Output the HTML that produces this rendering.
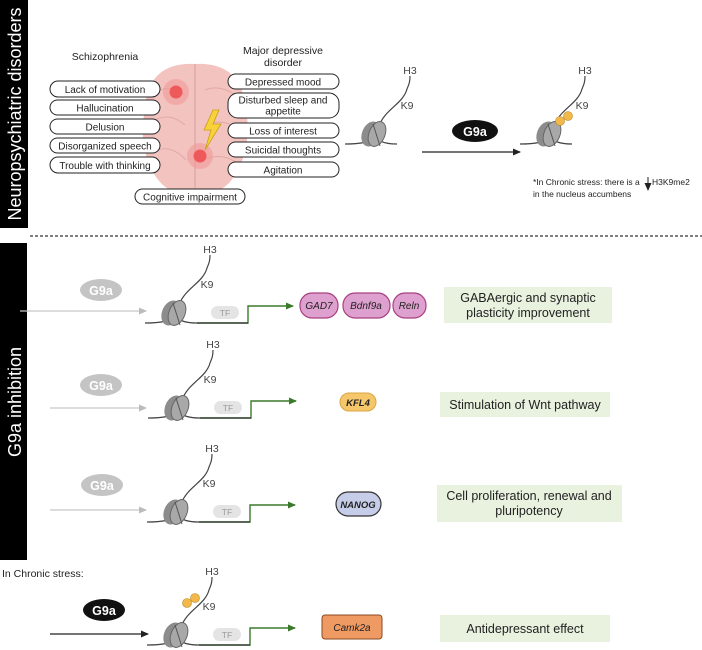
<!DOCTYPE html>
<html><head><meta charset="utf-8"><style>
html,body{margin:0;padding:0;background:#fff;}
svg{display:block;font-family:"Liberation Sans",sans-serif;}
</style></head><body>
<svg width="702" height="650" viewBox="0 0 702 650" xmlns="http://www.w3.org/2000/svg">
<defs>
<marker id="ag" markerWidth="8" markerHeight="8" refX="7" refY="4" orient="auto" markerUnits="userSpaceOnUse"><path d="M0,0.5 L8,4 L0,7.5z" fill="#3a7a2a"/></marker>
<marker id="al" markerWidth="8" markerHeight="8" refX="7" refY="4" orient="auto" markerUnits="userSpaceOnUse"><path d="M0,0.5 L8,4 L0,7.5z" fill="#bbb"/></marker>
<marker id="ak" markerWidth="8" markerHeight="8" refX="7" refY="4" orient="auto" markerUnits="userSpaceOnUse"><path d="M0,0.5 L8,4 L0,7.5z" fill="#222"/></marker>
<g id="nuc">
<path d="M-30 10 Q-6 10 -2 4 M2 4 Q6 10 22 10" fill="none" stroke="#444" stroke-width="1.3"/>
<path d="M4 -8 C10 -25 28 -30 32 -45 C34 -50 35 -52 35 -58" fill="none" stroke="#444" stroke-width="1.2"/>
<ellipse cx="-4" cy="0" rx="9" ry="13" transform="rotate(22 -4 0)" fill="#8c8c8c"/>
<ellipse cx="2" cy="0" rx="8" ry="13" transform="rotate(22 2 0)" fill="#a8a8a8" stroke="#666" stroke-width="1"/>
<path d="M-2 -10 L5 12" stroke="#555" stroke-width="1"/>
<text x="35" y="-60" font-size="10.5" fill="#444" text-anchor="middle">H3</text>
<text x="32" y="-25" font-size="10.5" fill="#444" text-anchor="middle">K9</text>
</g>
<g id="tfx">
<path d="M22 10 L73 10 L73 -7 L118 -7" fill="none" stroke="#3a7a2a" stroke-width="1.4" marker-end="url(#ag)"/>
<path d="M22 10 L73 10" stroke="#333" stroke-width="1.3"/>
<rect x="36" y="-7" width="28" height="13" rx="6.5" fill="#e4e4e4"/>
<text x="50" y="3" font-size="8.5" fill="#999" text-anchor="middle">TF</text>
</g>
<g id="me">
<circle cx="-2" cy="0" r="4.5" fill="#f2b84a" stroke="#b88a20" stroke-width="0.6"/>
<circle cx="6" cy="-5" r="4.5" fill="#f2b84a" stroke="#b88a20" stroke-width="0.6"/>
</g>
</defs>

<rect x="0" y="0" width="28" height="228" fill="#000"/>
<text transform="translate(21,114) rotate(-90)" font-size="18" fill="#fff" text-anchor="middle">Neuropsychiatric disorders</text>
<rect x="0" y="243" width="27" height="317" fill="#000"/>
<text transform="translate(21,402) rotate(-90)" font-size="18" fill="#fff" text-anchor="middle">G9a inhibition</text>
<line x1="30" y1="236" x2="702" y2="236" stroke="#333" stroke-width="1.2" stroke-dasharray="3,2"/>

<path d="M195 64 C162 62 146 80 145 110 C138 140 148 178 170 190 C185 197 205 197 220 190 C242 178 252 140 246 110 C244 80 228 62 195 64Z" fill="#f3c3c0"/>
<path d="M195 64 L195 194" stroke="#d79f9c" stroke-width="1"/>
<g fill="none" stroke="#e2a8a5" stroke-width="1">
<path d="M160 90 Q175 85 185 95"/><path d="M155 120 Q170 112 185 125"/><path d="M158 150 Q172 145 186 160"/>
<path d="M205 90 Q220 84 235 95"/><path d="M205 125 Q222 118 238 128"/><path d="M204 160 Q220 152 236 162"/>
</g>
<circle cx="176" cy="92" r="13" fill="#f29a98" opacity="0.6"/><circle cx="176" cy="92" r="6.5" fill="#ee5a5a"/>
<circle cx="200" cy="156" r="13" fill="#f29a98" opacity="0.6"/><circle cx="200" cy="156" r="6.5" fill="#ee5a5a"/>
<path d="M213 110 L204 130 L211 130 L205 150 L221 124 L213 124 L219 110Z" fill="#f7d23a" stroke="#c9a010" stroke-width="0.8"/>

<text x="105" y="60" font-size="10.5" fill="#222" text-anchor="middle">Schizophrenia</text>
<text x="283" y="54" font-size="10.5" fill="#222" text-anchor="middle">Major depressive</text>
<text x="283" y="66" font-size="10.5" fill="#222" text-anchor="middle">disorder</text>
<g fill="#fff" stroke="#222" stroke-width="1">
<rect x="50" y="81" width="110" height="16" rx="8"/>
<rect x="50" y="100" width="110" height="15" rx="7.5"/>
<rect x="50" y="119" width="110" height="15" rx="7.5"/>
<rect x="50" y="138" width="110" height="15" rx="7.5"/>
<rect x="50" y="157" width="110" height="16" rx="8"/>
<rect x="228" y="74" width="111" height="15" rx="7.5"/>
<rect x="228" y="93" width="111" height="25" rx="10"/>
<rect x="228" y="123" width="111" height="15" rx="7.5"/>
<rect x="228" y="142" width="111" height="15" rx="7.5"/>
<rect x="228" y="162" width="111" height="15" rx="7.5"/>
<rect x="135" y="189" width="110" height="15" rx="7.5"/>
</g>
<g font-size="10" fill="#222" text-anchor="middle">
<text x="105" y="93">Lack of motivation</text>
<text x="105" y="111.5">Hallucination</text>
<text x="105" y="130.5">Delusion</text>
<text x="105" y="149.5">Disorganized speech</text>
<text x="105" y="169">Trouble with thinking</text>
<text x="283" y="85.5">Depressed mood</text>
<text x="283" y="103.5">Disturbed sleep and</text>
<text x="283" y="114.5">appetite</text>
<text x="283" y="134.5">Loss of interest</text>
<text x="283" y="153.5">Suicidal thoughts</text>
<text x="283" y="173.5">Agitation</text>
<text x="190" y="200.5">Cognitive impairment</text>
</g>

<use href="#nuc" x="375" y="134"/>
<line x1="422" y1="152" x2="520" y2="152" stroke="#222" stroke-width="1.3" marker-end="url(#ak)"/>
<ellipse cx="475" cy="131" rx="23" ry="11" fill="#111"/>
<text x="475" y="136" font-size="12.5" font-weight="bold" fill="#fff" text-anchor="middle">G9a</text>
<use href="#nuc" x="550" y="134"/>
<use href="#me" x="562" y="121"/>
<text x="533" y="185" font-size="8.5" fill="#222">*In Chronic stress: there is a</text>
<line x1="648" y1="177" x2="648" y2="190" stroke="#222" stroke-width="1" marker-end="url(#ak)"/>
<text x="652" y="185" font-size="8.5" fill="#222">H3K9me2</text>
<text x="533" y="197" font-size="8.5" fill="#222">in the nucleus accumbens</text>

<ellipse cx="101" cy="290" rx="21" ry="11" fill="#c4c4c4"/>
<text x="101" y="295" font-size="12.5" font-weight="bold" fill="#fff" text-anchor="middle">G9a</text>
<line x1="20" y1="311" x2="146" y2="311" stroke="#c8c8c8" stroke-width="1.3" marker-end="url(#al)"/>
<use href="#nuc" x="175" y="313"/><use href="#tfx" x="175" y="313"/>
<g fill="#dea0cf" stroke="#a8407f" stroke-width="1.2">
<rect x="300" y="293" width="38" height="25" rx="12"/>
<rect x="343" y="293" width="47" height="25" rx="12"/>
<rect x="393" y="293" width="33" height="25" rx="12"/>
</g>
<g font-size="10" font-style="italic" fill="#222" text-anchor="middle">
<text x="319" y="309">GAD7</text><text x="366" y="309">Bdnf9a</text><text x="409" y="309">Reln</text>
</g>
<rect x="444" y="287" width="168" height="36" fill="#e8f2df"/>
<text x="528" y="302" font-size="12.5" fill="#222" text-anchor="middle">GABAergic and synaptic</text>
<text x="528" y="317" font-size="12.5" fill="#222" text-anchor="middle">plasticity improvement</text>

<ellipse cx="101" cy="385" rx="21" ry="11" fill="#c4c4c4"/>
<text x="101" y="390" font-size="12.5" font-weight="bold" fill="#fff" text-anchor="middle">G9a</text>
<line x1="50" y1="408" x2="146" y2="408" stroke="#c8c8c8" stroke-width="1.3" marker-end="url(#al)"/>
<use href="#nuc" x="178" y="408"/><use href="#tfx" x="178" y="408"/>
<rect x="340" y="393" width="36" height="18" rx="9" fill="#f5c76a" stroke="#d9a640" stroke-width="1"/>
<text x="358" y="406" font-size="9.5" font-style="italic" font-weight="bold" fill="#222" text-anchor="middle">KFL4</text>
<rect x="440" y="392" width="170" height="25" fill="#e8f2df"/>
<text x="525" y="409" font-size="12.5" fill="#222" text-anchor="middle">Stimulation of Wnt pathway</text>

<ellipse cx="102" cy="485" rx="21" ry="11" fill="#c4c4c4"/>
<text x="102" y="490" font-size="12.5" font-weight="bold" fill="#fff" text-anchor="middle">G9a</text>
<line x1="50" y1="510" x2="146" y2="510" stroke="#c8c8c8" stroke-width="1.3" marker-end="url(#al)"/>
<use href="#nuc" x="177" y="512"/><use href="#tfx" x="177" y="512"/>
<rect x="336" y="492" width="45" height="24" rx="12" fill="#c6cde8" stroke="#333" stroke-width="1.2"/>
<text x="358" y="508" font-size="9.5" font-style="italic" font-weight="bold" fill="#222" text-anchor="middle">NANOG</text>
<rect x="437" y="485" width="185" height="37" fill="#e8f2df"/>
<text x="529" y="500" font-size="12.5" fill="#222" text-anchor="middle">Cell proliferation, renewal and</text>
<text x="529" y="515" font-size="12.5" fill="#222" text-anchor="middle">pluripotency</text>

<text x="2" y="577" font-size="10.5" fill="#222">In Chronic stress:</text>
<ellipse cx="104" cy="610" rx="21" ry="11" fill="#111"/>
<text x="104" y="615" font-size="12.5" font-weight="bold" fill="#fff" text-anchor="middle">G9a</text>
<line x1="50" y1="634" x2="148" y2="634" stroke="#222" stroke-width="1.3" marker-end="url(#ak)"/>
<use href="#nuc" x="177" y="635"/><use href="#tfx" x="177" y="635"/>
<use href="#me" x="189" y="603"/>
<rect x="322" y="615" width="60" height="24" rx="3" fill="#ef9a63" stroke="#8a4a20" stroke-width="1"/>
<text x="352" y="631" font-size="10" font-style="italic" fill="#222" text-anchor="middle">Camk2a</text>
<rect x="440" y="615" width="170" height="27" fill="#e8f2df"/>
<text x="525" y="633" font-size="12.5" fill="#222" text-anchor="middle">Antidepressant effect</text>
</svg>
</body></html>
